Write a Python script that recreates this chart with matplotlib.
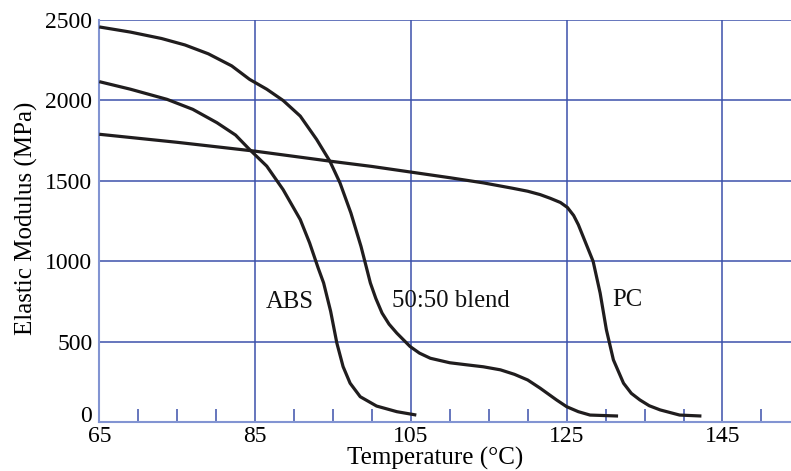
import matplotlib.pyplot as plt
import matplotlib.transforms as mtransforms
from matplotlib.ticker import MultipleLocator, FixedLocator, FuncFormatter

plt.rcParams['font.family'] = ['Liberation Serif', 'DejaVu Serif']

# values (temperature in C, modulus in MPa)
pc_T = [65, 75, 85, 94.6, 100, 105, 110, 114.3, 118, 120, 121.6, 122.9, 124.2, 125.1, 125.9,
        126.5, 127.1, 128.4, 129.3, 130.1, 131.0, 132.3, 133.3, 134.4, 135.6, 137.0, 139.5, 142.3]
pc_E = [1790, 1740, 1685, 1623, 1590, 1555, 1520, 1488, 1455, 1436, 1415, 1392, 1366, 1335, 1285,
        1228, 1156, 1000, 803, 575, 388, 243, 180, 139, 103, 77, 45, 39]

abs_T = [65, 69, 73.7, 77, 80.1, 82.5, 84.3, 86.5, 88.6, 90.8, 92.0, 93.1, 93.8, 94.7, 95.5,
         96.3, 97.2, 98.5, 100.6, 103.2, 105.7]
abs_E = [2117, 2070, 2007, 1945, 1862, 1785, 1695, 1592, 1446, 1260, 1115, 959, 866, 690, 492,
         346, 243, 159, 101, 66, 45]

blend_T = [65, 69, 73, 76, 79, 82, 84.3, 86.5, 88.6, 90.8, 92.9, 94.6, 95.9, 97.3, 98.6, 99.3,
           99.8, 100.5, 101.3, 102.2, 103.2, 104.9, 106.1, 107.5, 110, 112.2, 114.3, 116.5, 118.3,
           120, 121.6, 123.7, 125, 126.5, 128, 131.6]
blend_E = [2457, 2425, 2385, 2345, 2290, 2215, 2131, 2070, 2000, 1903, 1758, 1623, 1488, 1301, 1093, 961,
           866, 770, 679, 610, 554, 471, 430, 398, 370, 357, 345, 326, 298,
           263, 212, 139, 97, 66, 45, 39]

labels = ['ABS', '50:50 blend', 'PC']
label_T = [89.4, 110.1, 132.8]
label_E = [749, 751, 761]

major_x = [65, 85, 105, 125, 145]
grid_blue = '#3c51ab'
spine_blue = '#8294d2'

fig = plt.figure(figsize=(7.91, 4.71), dpi=100)
ax = fig.add_axes([0.1255, 0.1034, 0.8745, 0.8541])

ax.set_xlim(65, 153.8)
ax.set_ylim(0, 2500)

for T, E in [(pc_T, pc_E), (abs_T, abs_E), (blend_T, blend_E)]:
    ax.plot(T, E, color='#201d1e', lw=2.3, solid_joinstyle='round',
            solid_capstyle='butt', zorder=3)

for t, e, s in zip(label_T, label_E, labels):
    ax.text(t, e, s, fontsize=17.8, ha='center', va='center', color='#111111')

# grid
for x in major_x[1:]:
    ax.axvline(x, color=grid_blue, lw=1.1, zorder=1)
for y in [500, 1000, 1500, 2000, 2500]:
    ax.axhline(y, color=grid_blue, lw=1.1, zorder=1)

ax.xaxis.set_major_locator(FixedLocator(major_x))
ax.xaxis.set_minor_locator(MultipleLocator(5))
ax.yaxis.set_major_locator(MultipleLocator(500))
# the "0" is drawn separately, a bit higher than the axis line
ax.yaxis.set_major_formatter(FuncFormatter(lambda v, p: '' if v == 0 else '%d' % v))
ax.tick_params(axis='both', which='major', length=0, labelsize=17)
ax.tick_params(axis='y', which='major', pad=5)
ax.tick_params(axis='x', which='major', pad=2.5)
ax.tick_params(axis='x', which='minor', direction='in', length=9.5, width=1.1, color=grid_blue)

zero_tr = ax.transAxes + mtransforms.ScaledTranslation(-0.07, 0.06, fig.dpi_scale_trans)
ax.text(0, 0, '0', fontsize=17, ha='right', va='center', transform=zero_tr)

for s in ['top', 'right']:
    ax.spines[s].set_visible(False)
for s in ['left', 'bottom']:
    ax.spines[s].set_color(spine_blue)
    ax.spines[s].set_linewidth(1.5)

ax.set_xlabel('Temperature (\u00b0C)', fontsize=18)
ax.set_ylabel('Elastic Modulus (MPa)', fontsize=18)
ax.xaxis.set_label_coords(0.486, -0.062)
ax.yaxis.set_label_coords(-0.089, 0.508)

fig.savefig('out.png', dpi=100)
